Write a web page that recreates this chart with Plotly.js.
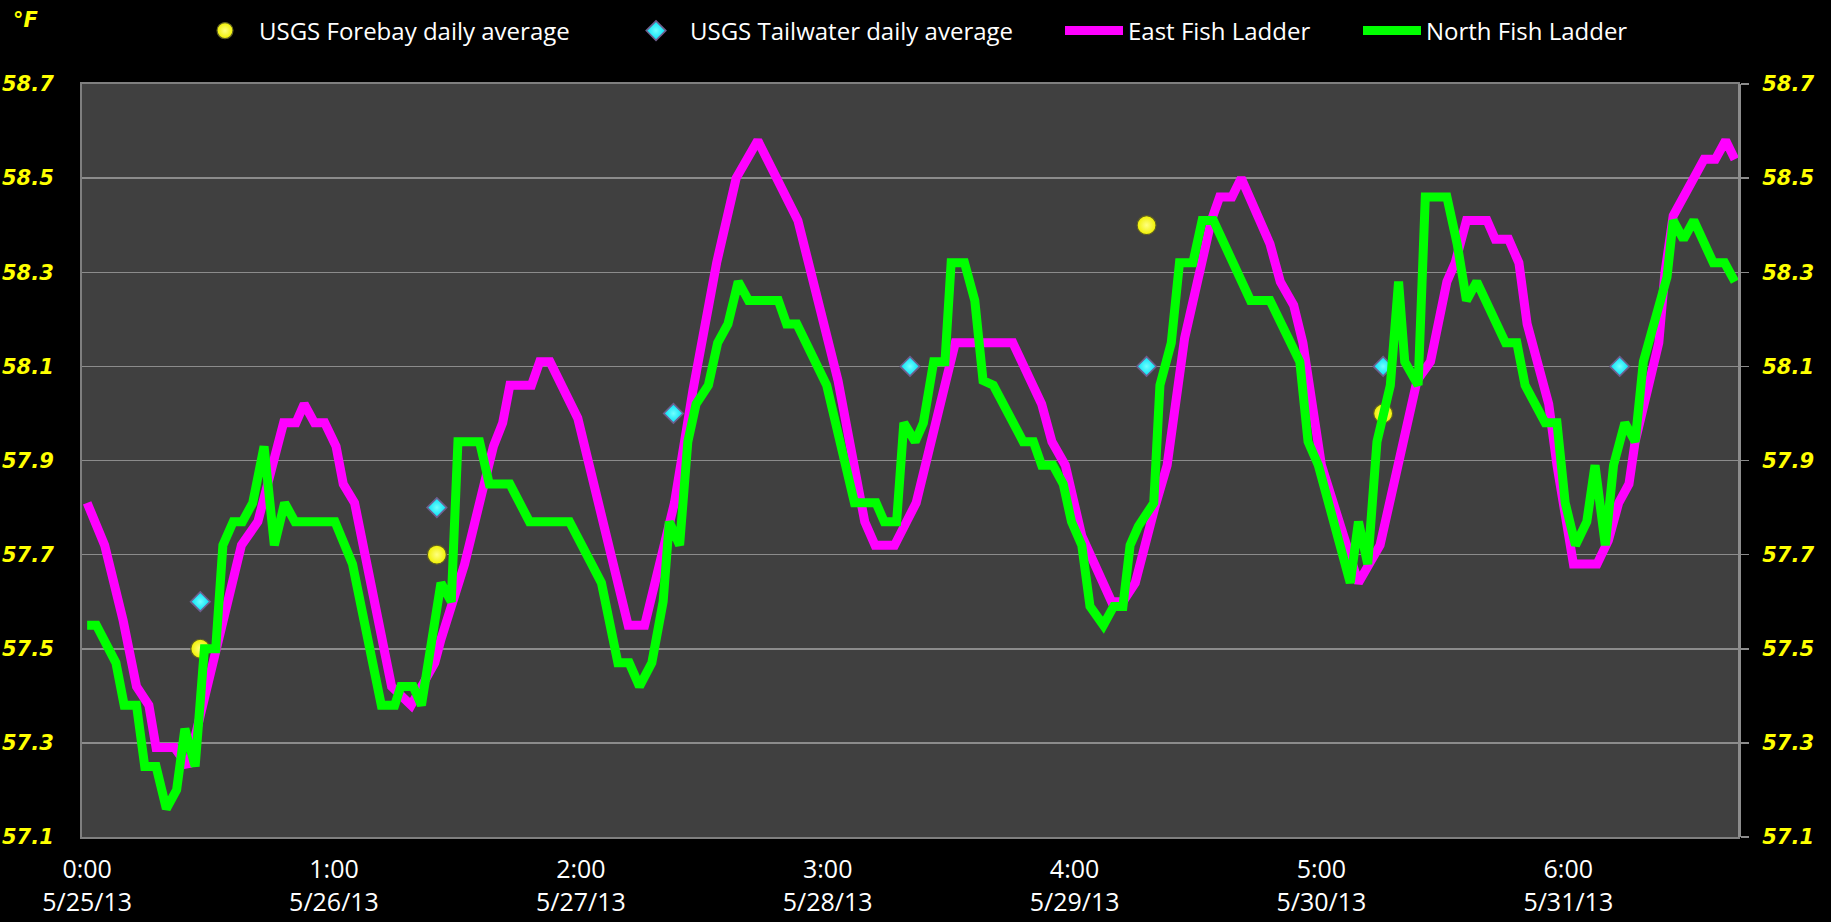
<!DOCTYPE html>
<html>
<head>
<meta charset="utf-8">
<script src="https://cdn.plot.ly/plotly-3.0.1.min.js"></script>
<style>
  html, body { margin: 0; padding: 0; background: #000; }
  #chart { width: 1831px; height: 922px; }
</style>
</head>
<body>
<div id="chart"></div>
<script>
// ---- Data ----
// Hour axis tick labels (every 24 h starting 5/25/13 0:00)
const dayTickHours = [0, 24, 48, 72, 96, 120, 144];
const dayTickLabels = ['0:00<br>5/25/13', '1:00<br>5/26/13', '2:00<br>5/27/13', '3:00<br>5/28/13',
                       '4:00<br>5/29/13', '5:00<br>5/30/13', '6:00<br>5/31/13'];

// Daily averages (secondary category axis, one per day)
const dayIndex = [0, 1, 2, 3, 4, 5, 6];
const forebayAvg = [57.50, 57.70, null, null, 58.40, 58.00, null];
const tailwaterAvg = [57.60, 57.80, 58.00, 58.10, 58.10, 58.10, 58.10];

// East Fish Ladder: vertices (hours since 5/25/13 0:00, degF)
const eastHours = [0, 1.7, 3.5, 4.8, 6.0, 6.7, 8.5, 9.8, 15.0, 16.6,
  18.5, 19.1, 20.3, 21.1, 22.1, 23.1, 24.2, 24.9, 26.0, 29.6,
  31.5, 33.8, 34.4, 36.7, 38.6, 39.5, 40.4, 41.1, 43.2, 44.0,
  45.0, 47.7, 52.6, 54.2, 57.1, 58.9, 61.2, 63.1, 65.2, 69.1,
  73.0, 74.3, 75.6, 76.6, 78.5, 80.6, 84.4, 90.0, 92.8, 93.8,
  95.1, 96.7, 99.6, 100.7, 101.9, 103.8, 105.0, 106.7, 109.3, 110.1,
  111.3, 112.2, 115.0, 116.0, 117.3, 118.2, 120.0, 123.6, 125.7, 129.3,
  130.6, 132.2, 133.0, 134.1, 136.1, 136.9, 138.2, 139.2, 140.0, 142.1,
  142.9, 144.5, 146.8, 147.9, 148.9, 149.9, 150.5, 152.8, 153.4, 154.2,
  155.7, 157.2, 158.3, 159.3, 160.2];
const eastTemp = [57.81, 57.72, 57.56, 57.42, 57.38, 57.29, 57.29, 57.25, 57.72, 57.77,
  57.93, 57.98, 57.98, 58.02, 57.98, 57.98, 57.93, 57.85, 57.81, 57.42,
  57.38, 57.47, 57.52, 57.68, 57.85, 57.93, 57.98, 58.06, 58.06, 58.11,
  58.11, 57.99, 57.55, 57.55, 57.81, 58.05, 58.32, 58.50, 58.58, 58.41,
  58.07, 57.93, 57.77, 57.72, 57.72, 57.81, 58.15, 58.15, 58.02, 57.94,
  57.89, 57.74, 57.60, 57.60, 57.64, 57.80, 57.89, 58.16, 58.41, 58.46,
  58.46, 58.50, 58.36, 58.28, 58.23, 58.15, 57.89, 57.64, 57.72, 58.07,
  58.11, 58.28, 58.32, 58.41, 58.41, 58.37, 58.37, 58.32, 58.19, 58.02,
  57.89, 57.68, 57.68, 57.73, 57.81, 57.85, 57.94, 58.15, 58.30, 58.42,
  58.48, 58.54, 58.54, 58.58, 58.54];

// North Fish Ladder: vertices (hours since 5/25/13 0:00, degF)
const northHours = [0, 0.9, 2.8, 3.6, 4.8, 5.6, 6.7, 7.7, 8.7, 9.5,
  10.5, 11.4, 12.5, 13.2, 14.2, 15.1, 16.1, 17.2, 18.2, 19.2,
  20.2, 24.1, 25.8, 27.5, 28.6, 29.9, 30.5, 31.7, 32.5, 34.4,
  35.4, 36.05, 38.15, 39.1, 41.1, 43.0, 46.9, 50.0, 51.6, 52.7,
  53.7, 54.9, 56.0, 56.6, 57.6, 58.4, 59.2, 60.4, 61.3, 62.3,
  63.3, 64.3, 67.2, 68.0, 69.0, 71.9, 74.6, 76.7, 77.5, 78.7,
  79.4, 80.5, 81.3, 82.3, 83.4, 84.0, 85.3, 86.3, 87.1, 88.1,
  91.0, 92.0, 92.8, 93.9, 94.9, 95.7, 96.7, 97.5, 98.8, 99.8,
  100.7, 101.4, 102.2, 103.7, 104.3, 105.4, 106.2, 107.5, 108.4, 109.5,
  113.1, 115.0, 117.9, 118.7, 119.7, 122.8, 123.6, 124.5, 125.4, 126.7,
  127.5, 128.1, 129.4, 130.1, 132.2, 133.2, 134.1, 135.1, 137.9, 139.0,
  139.8, 141.75, 142.9, 143.7, 144.7, 145.8, 146.6, 147.6, 148.4, 149.5,
  150.5, 151.3, 153.6, 154.2, 155.2, 156.2, 158.1, 159.2, 160.2];
const northTemp = [57.55, 57.55, 57.47, 57.38, 57.38, 57.25, 57.25, 57.16, 57.20, 57.33,
  57.25, 57.50, 57.50, 57.72, 57.77, 57.77, 57.81, 57.93, 57.72, 57.81,
  57.77, 57.77, 57.68, 57.51, 57.38, 57.38, 57.42, 57.42, 57.38, 57.64,
  57.60, 57.94, 57.94, 57.85, 57.85, 57.77, 57.77, 57.64, 57.47, 57.47,
  57.42, 57.47, 57.60, 57.77, 57.72, 57.94, 58.02, 58.06, 58.15, 58.19,
  58.28, 58.24, 58.24, 58.19, 58.19, 58.06, 57.81, 57.81, 57.77, 57.77,
  57.98, 57.94, 57.98, 58.11, 58.11, 58.32, 58.32, 58.24, 58.07, 58.06,
  57.94, 57.94, 57.89, 57.89, 57.85, 57.77, 57.72, 57.59, 57.55, 57.59,
  57.59, 57.72, 57.76, 57.81, 58.06, 58.15, 58.32, 58.32, 58.41, 58.41,
  58.24, 58.24, 58.11, 57.94, 57.89, 57.64, 57.77, 57.68, 57.94, 58.06,
  58.28, 58.11, 58.06, 58.46, 58.46, 58.36, 58.24, 58.28, 58.15, 58.15,
  58.06, 57.98, 57.98, 57.81, 57.72, 57.77, 57.89, 57.72, 57.89, 57.98,
  57.94, 58.11, 58.29, 58.41, 58.37, 58.41, 58.32, 58.32, 58.28];

// ---- Chart ----
const W = 1831, H = 922;
const yTickFont = { family: 'DejaVu Sans', size: 21, color: '#ffff00', weight: 'bold', style: 'italic' };
const legendFont = { family: 'Open Sans', size: 24, color: '#ffffff' };

const traces = [
  {
    name: 'USGS Forebay daily average', x: dayIndex, y: forebayAvg,
    xaxis: 'x', yaxis: 'y', mode: 'markers', legend: 'legend',
    marker: { symbol: 'circle', size: 19, color: '#f0f000',
              gradient: { type: 'radial', color: '#ffff80' },
              line: { color: '#5e5e22', width: 1.2 } }
  },
  {
    name: 'USGS Tailwater daily average', x: dayIndex, y: tailwaterAvg,
    xaxis: 'x', yaxis: 'y', mode: 'markers', legend: 'legend2',
    marker: { symbol: 'diamond', size: 15, color: '#00def4',
              gradient: { type: 'radial', color: '#70ffff' },
              line: { color: '#6e5f8e', width: 1.6 } }
  },
  {
    name: 'East Fish Ladder', x: eastHours, y: eastTemp,
    xaxis: 'x2', yaxis: 'y2', mode: 'lines', legend: 'legend3',
    line: { color: '#ff00ff', width: 9 }
  },
  {
    name: 'North Fish Ladder', x: northHours, y: northTemp,
    xaxis: 'x2', yaxis: 'y2', mode: 'lines', legend: 'legend4',
    line: { color: '#00ff00', width: 9 }
  }
];

function legendAt(px) {
  return {
    xref: 'container', yref: 'container',
    x: px / W, xanchor: 'left', y: 1 - 31 / H, yanchor: 'middle',
    orientation: 'h', bgcolor: 'rgba(0,0,0,0)', borderwidth: 0,
    font: legendFont, itemwidth: 58
  };
}

const yBase = {
  range: [57.1, 58.7], tick0: 57.1, dtick: 0.2, tickformat: '.1f',
  zeroline: false, fixedrange: true, tickfont: yTickFont
};

const layout = {
  width: W, height: H,
  paper_bgcolor: '#000000', plot_bgcolor: '#404040',
  margin: { l: 82, r: 93, t: 84, b: 85, pad: 0 },
  showlegend: true,
  legend: legendAt(191),
  legend2: legendAt(622),
  legend3: legendAt(1060),
  legend4: legendAt(1358),
  xaxis: {
    range: [-0.5, 6.5], showticklabels: false, ticks: '', showgrid: false,
    zeroline: false, showline: true, linecolor: '#7f7f7f', linewidth: 2, mirror: true,
    fixedrange: true
  },
  yaxis: Object.assign({}, yBase, {
    side: 'left', showgrid: true, gridcolor: '#8c8c8c', gridwidth: 1.5,
    showline: true, linecolor: '#7f7f7f', linewidth: 2, mirror: true,
    ticks: '', ticklabelstandoff: 22
  }),
  xaxis2: {
    overlaying: 'x', anchor: 'y2', side: 'bottom',
    range: [-0.5, 160.5], tickmode: 'array', tickvals: dayTickHours, ticktext: dayTickLabels,
    ticks: '', showgrid: false, zeroline: false, showline: false,
    tickfont: { family: 'Open Sans', size: 25, color: '#ffffff' },
    ticklabelstandoff: 15, fixedrange: true
  },
  yaxis2: Object.assign({}, yBase, {
    overlaying: 'y', anchor: 'x2', side: 'right', showgrid: false,
    ticks: 'outside', ticklen: 8, tickwidth: 1.5, tickcolor: '#8c8c8c',
    showline: true, linecolor: '#8c8c8c', linewidth: 3,
    ticklabelstandoff: 9
  }),
  annotations: [{
    text: '°F', xref: 'paper', yref: 'paper',
    x: (11 - 82) / 1656, xanchor: 'left', y: (837 - 20) / 753, yanchor: 'middle',
    showarrow: false, font: yTickFont
  }]
};

Plotly.newPlot('chart', traces, layout, { staticPlot: true, displayModeBar: false });
</script>
</body>
</html>
